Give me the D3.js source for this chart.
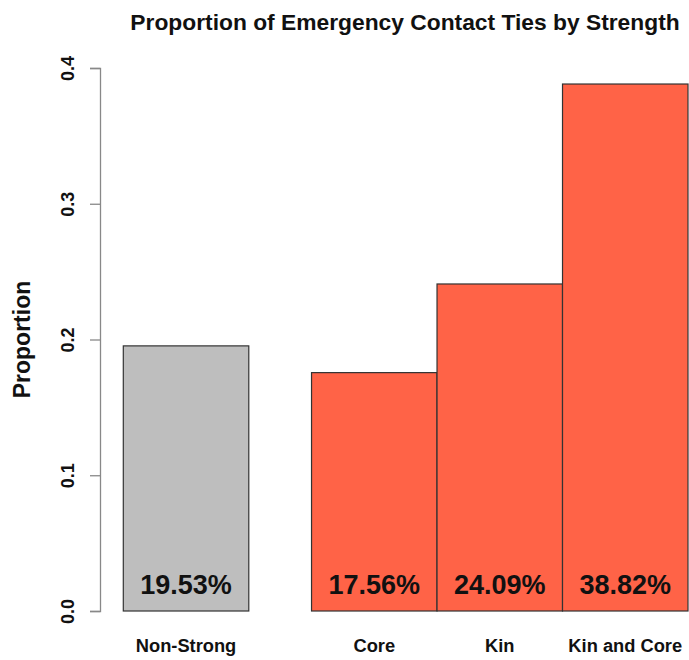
<!DOCTYPE html>
<html>
<head>
<meta charset="utf-8">
<script src="https://cdn.jsdelivr.net/npm/d3@7"></script>
<style>
  html, body { margin: 0; padding: 0; background: #fff; }
  svg { display: block; font-family: "Liberation Sans", Arial, Helvetica, sans-serif; }
</style>
</head>
<body>
<svg id="chart" width="689" height="660"></svg>
<script>
// ---- data ----
const categories = ["Non-Strong", "Core", "Kin", "Kin and Core"];
const proportions = [0.1953, 0.1756, 0.2409, 0.3882];
const labels = ["19.53%", "17.56%", "24.09%", "38.82%"];
const tieGroup = ["non-strong", "strong", "strong", "strong"];
const yTicks = [0.0, 0.1, 0.2, 0.3, 0.4];
const title = "Proportion of Emergency Contact Ties by Strength";
const yLabel = "Proportion";

// ---- layout ----
const svg = d3.select("#chart");
const colors = { "non-strong": "#BEBEBE", "strong": "#FF6347" };

// bar units: each bar 1 wide, gap of 0.5 between groups
const starts = [];
let pos = 0;
categories.forEach((c, i) => {
  if (i > 0 && tieGroup[i] !== tieGroup[i - 1]) pos += 0.5;
  starts.push(pos);
  pos += 1;
});
const x = d3.scaleLinear().domain([0, pos]).range([123.3, 688]);
const y = d3.scaleLinear().domain([0, 0.4]).range([611, 68]);

// bars
svg.append("g").selectAll("rect").data(categories).join("rect")
  .attr("x", (d, i) => x(starts[i]))
  .attr("y", (d, i) => y(proportions[i]))
  .attr("width", (d, i) => x(starts[i] + 1) - x(starts[i]))
  .attr("height", (d, i) => y(0) - y(proportions[i]))
  .attr("fill", (d, i) => colors[tieGroup[i]])
  .attr("stroke", "#333")
  .attr("stroke-width", 1.2);

// value labels inside bars
svg.append("g").selectAll("text").data(categories).join("text")
  .attr("x", (d, i) => x(starts[i] + 0.5))
  .attr("y", 594)
  .attr("text-anchor", "middle")
  .attr("font-size", 27)
  .attr("font-weight", "bold")
  .attr("fill", "#111")
  .text((d, i) => labels[i]);

// category labels
svg.append("g").selectAll("text").data(categories).join("text")
  .attr("x", (d, i) => x(starts[i] + 0.5))
  .attr("y", 652)
  .attr("text-anchor", "middle")
  .attr("font-size", 18.3)
  .attr("font-weight", "bold")
  .attr("fill", "#111")
  .text(d => d);

// y axis
const yAxis = d3.axisLeft(y).tickValues(yTicks).tickFormat(d3.format(".1f")).tickSize(10);
const gy = svg.append("g").attr("transform", "translate(100,0)").call(yAxis);
gy.select(".domain").attr("stroke", "#888").attr("stroke-width", 1.3);
gy.selectAll(".tick line").attr("stroke", "#888").attr("stroke-width", 1.3);
gy.selectAll(".tick text")
  .attr("font-size", 18)
  .attr("font-weight", "bold")
  .attr("font-family", "Liberation Sans, Arial, sans-serif")
  .attr("fill", "#111")
  .attr("text-anchor", "middle")
  .attr("dy", null)
  .attr("x", 0).attr("y", 0)
  .attr("transform", "translate(-26,0) rotate(-90)");

// y label
svg.append("text")
  .attr("transform", `translate(30, ${(y(0) + y(0.4)) / 2}) rotate(-90)`)
  .attr("text-anchor", "middle")
  .attr("font-size", 23)
  .attr("font-weight", "bold")
  .attr("fill", "#111")
  .text(yLabel);

// title
svg.append("text")
  .attr("x", 405)
  .attr("y", 30)
  .attr("text-anchor", "middle")
  .attr("font-size", 22.8)
  .attr("font-weight", "bold")
  .attr("fill", "#111")
  .text(title);
</script>
</body>
</html>
